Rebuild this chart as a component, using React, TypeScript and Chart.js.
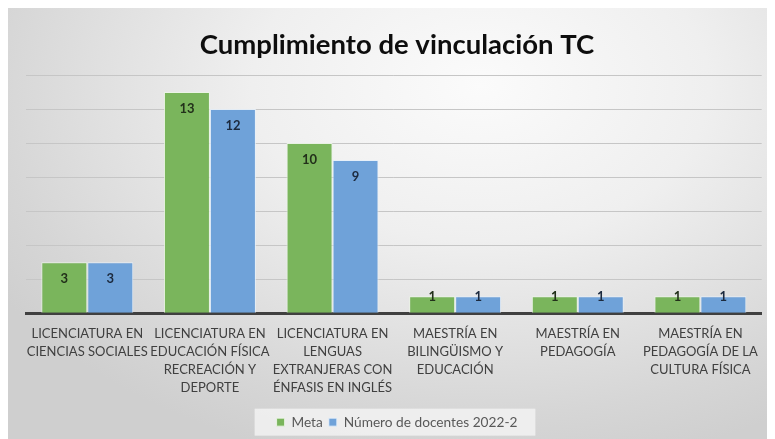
import React, { useEffect, useRef } from "react";
import { Chart, registerables } from "chart.js";

Chart.register(...registerables);

const categories: string[][] = [
  ["LICENCIATURA EN", "CIENCIAS SOCIALES"],
  ["LICENCIATURA EN", "EDUCACIÓN FÍSICA", "RECREACIÓN Y", "DEPORTE"],
  ["LICENCIATURA EN", "LENGUAS", "EXTRANJERAS CON", "ÉNFASIS EN INGLÉS"],
  ["MAESTRÍA EN", "BILINGÜISMO Y", "EDUCACIÓN"],
  ["MAESTRÍA EN", "PEDAGOGÍA"],
  ["MAESTRÍA EN", "PEDAGOGÍA DE LA", "CULTURA FÍSICA"],
];
const metaValues: number[] = [3, 13, 10, 1, 1, 1];
const docentesValues: number[] = [3, 12, 9, 1, 1, 1];
const seriesNames: string[] = ["Meta", "Número de docentes 2022-2"];
const titleText = "Cumplimiento de vinculación TC";

const FONT = "Lato, 'Open Sans', sans-serif";

const legendBg = {
  id: "legendBg",
  beforeDraw(chart: any) {
    const lg = chart.legend;
    if (!lg || !lg.legendHitBoxes || !lg.legendHitBoxes.length) return;
    const boxes = lg.legendHitBoxes;
    let l = Infinity, r = -Infinity;
    boxes.forEach((b: any) => {
      l = Math.min(l, b.left);
      r = Math.max(r, b.left + b.width);
    });
    const cy = boxes[0].top + boxes[0].height / 2;
    const ctx = chart.ctx;
    ctx.save();
    ctx.fillStyle = "rgba(242,242,242,0.85)";
    ctx.fillRect(l - 22, cy - 13.5, r - l + 40, 27);
    ctx.restore();
  },
};

const barLabels = {
  id: "barLabels",
  afterDatasetsDraw(chart: any) {
    const ctx = chart.ctx;
    ctx.save();
    ctx.font = `bold 13px ${FONT}`;
    ctx.textAlign = "center";
    ctx.textBaseline = "middle";
    chart.data.datasets.forEach((ds: any, di: number) => {
      const meta = chart.getDatasetMeta(di);
      ctx.fillStyle = di === 0 ? "#22301a" : "#1c2a3e";
      meta.data.forEach((bar: any, i: number) => {
        const cy = Math.min(bar.y + 17, bar.base - 16);
        ctx.fillText(String(ds.data[i]), bar.x, cy);
      });
    });
    ctx.restore();
  },
};

export default function App() {
  const ref = useRef<HTMLCanvasElement>(null);
  useEffect(() => {
    if (!ref.current) return;
    const chart = new Chart(ref.current, {
      type: "bar",
      data: {
        labels: categories,
        datasets: [
          {
            label: seriesNames[0],
            data: metaValues,
            backgroundColor: "#7ab55c",
            borderColor: "rgba(235,245,230,0.9)",
            borderWidth: 1,
            categoryPercentage: 0.75,
            barPercentage: 1,
          },
          {
            label: seriesNames[1],
            data: docentesValues,
            backgroundColor: "#6fa2d9",
            borderColor: "rgba(230,240,250,0.9)",
            borderWidth: 1,
            categoryPercentage: 0.75,
            barPercentage: 1,
          },
        ],
      },
      options: {
        responsive: false,
        animation: false,
        layout: { padding: { left: 18, right: 2, top: 0, bottom: 0 } },
        plugins: {
          title: {
            display: true,
            text: titleText,
            color: "#0d0d0d",
            font: { family: FONT, size: 27.5, weight: "bold" },
            padding: { top: 21, bottom: 13 },
          },
          legend: {
            position: "bottom",
            labels: {
              color: "#595959",
              font: { family: FONT, size: 13.7 },
              boxWidth: 8,
              boxHeight: 8,
              padding: 6,
            },
          },
          tooltip: { enabled: false },
        },
        scales: {
          x: {
            grid: { display: false, drawTicks: false },
            border: { display: true, color: "#404040", width: 3 },
            ticks: {
              color: "#404040",
              font: { family: FONT, size: 13, lineHeight: 1.385 },
              autoSkip: false,
              maxRotation: 0,
              padding: 12,
            },
          },
          y: {
            min: 0,
            max: 14,
            ticks: { display: false, stepSize: 2 },
            grid: { color: "#c6c6c6", lineWidth: 1, drawTicks: false },
            border: { display: false },
          },
        },
      },
      plugins: [legendBg, barLabels],
    });
    return () => chart.destroy();
  }, []);
  return (
    <div
      style={{
        width: 762,
        height: 431,
        background:
          "radial-gradient(ellipse 75% 90% at 62% 18%, #fbfbfb 0%, #efefef 40%, #d6d6d6 85%, #cfcfcf 100%)",
      }}
    >
      <canvas ref={ref} width={762} height={431} />
    </div>
  );
}
